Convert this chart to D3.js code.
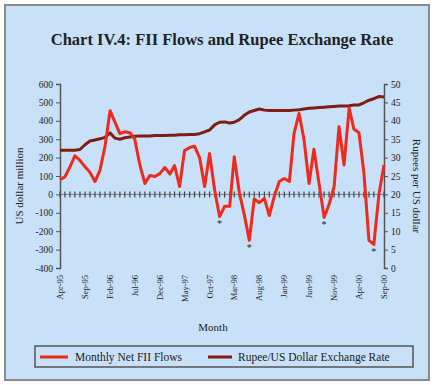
<!DOCTYPE html>
<html>
<head>
  <meta charset="utf-8">
  <script src="https://d3js.org/d3.v7.min.js"></script>
  <style>
    body { margin: 0; background: #fff; }
    text { font-family: "Liberation Serif", "DejaVu Serif", serif; fill: #222; }
  </style>
</head>
<body>
  <div id="chart"></div>
  <script>
    // months Apr-95 .. Sep-00
    const months = d3.range(66).map(i => new Date(1995, 3 + i, 1));
    const tickMonths = d3.range(0, 66, 5).map(i => months[i]);

    // Monthly net FII flows, US$ million (left axis)
    const fiiFlows = [80, 95, 150, 210, 185, 150, 120, 70, 130, 260,
      455, 394, 330, 340, 335, 300, 160, 59, 103, 97,
      113, 146, 110, 157, 43, 238, 255, 262, 200, 43,
      222, 25, -120, -65, -65, 205, 10, -110, -250, -25,
      -45, -22, -115, -10, 70, 86, 70, 330, 440, 300,
      59, 245, 60, -125, -55, 40, 368, 160, 470, 355,
      335, 120, -250, -272, 0, 160];

    // Rupee / US dollar exchange rate (right axis)
    const exchangeRate = [32.0, 32.0, 32.0, 32.0, 32.2, 33.5, 34.5, 34.8, 35.1, 35.5,
      36.7, 35.3, 35.0, 35.4, 35.6, 35.8, 35.9, 35.9, 35.9, 36.0,
      36.0, 36.0, 36.1, 36.1, 36.2, 36.2, 36.3, 36.3, 36.5, 37.0,
      37.5, 38.9, 39.6, 39.7, 39.4, 39.6, 40.3, 41.5, 42.4, 42.8,
      43.2, 42.9, 42.8, 42.8, 42.8, 42.8, 42.8, 42.9, 43.0, 43.2,
      43.4, 43.5, 43.6, 43.7, 43.8, 43.9, 44.0, 44.0, 44.1, 44.3,
      44.3, 44.9, 45.6, 46.0, 46.6, 46.5];

    // months marked with an asterisk below the trough
    const starMonths = [32, 38, 53, 63];

    const leftTicks = d3.range(-400, 601, 100);
    const rightTicks = d3.range(0, 51, 5);

    const W = 435, H = 385;
    const svg = d3.select("#chart").append("svg")
      .attr("width", W).attr("height", H);

    // frame
    svg.append("rect")
      .attr("x", 5).attr("y", 5).attr("width", 424).attr("height", 375)
      .attr("fill", "#c8e0f8").attr("stroke", "#8a8a8a").attr("stroke-width", 2);

    svg.append("text")
      .attr("x", 222).attr("y", 45)
      .attr("text-anchor", "middle")
      .attr("font-size", 16.5).attr("font-weight", "bold")
      .text("Chart IV.4: FII Flows and Rupee Exchange Rate");

    const x = d3.scaleTime().domain([months[0], months[65]]).range([60, 384]);
    const yL = d3.scaleLinear().domain([-400, 600]).range([268, 84]);
    const yR = d3.scaleLinear().domain([0, 50]).range([268, 84]);

    const hyphen = d => String(d).replace("\u2212", "-");

    // left axis
    svg.append("g")
      .attr("transform", "translate(60,0)")
      .call(d3.axisLeft(yL).tickValues(leftTicks).tickSize(4).tickPadding(3).tickFormat(hyphen))
      .call(g => g.selectAll("text").attr("font-size", 9.5))
      .call(g => g.select(".domain").attr("stroke", "#555").attr("stroke-width", 1.5))
      .call(g => g.selectAll(".tick line").attr("stroke", "#555"));

    // right axis
    svg.append("g")
      .attr("transform", "translate(384,0)")
      .call(d3.axisRight(yR).tickValues(rightTicks).tickSize(4).tickPadding(3).tickFormat(hyphen))
      .call(g => g.selectAll("text").attr("font-size", 9.5))
      .call(g => g.select(".domain").attr("stroke", "#555").attr("stroke-width", 1.5))
      .call(g => g.selectAll(".tick line").attr("stroke", "#555"));

    // zero line with month ticks
    const zeroY = yL(0);
    svg.append("line")
      .attr("x1", 60).attr("x2", 384).attr("y1", zeroY).attr("y2", zeroY)
      .attr("stroke", "#666").attr("stroke-width", 0.8);
    svg.append("g").selectAll("line").data(months).join("line")
      .attr("x1", d => x(d)).attr("x2", d => x(d))
      .attr("y1", zeroY - 3).attr("y2", zeroY + 3)
      .attr("stroke", "#444").attr("stroke-width", 1.2);

    // month labels
    const fmt = d3.timeFormat("%b-%y");
    svg.append("g").selectAll("text").data(tickMonths).join("text")
      .attr("transform", d => `translate(${x(d) + 3},275) rotate(-90)`)
      .attr("text-anchor", "end")
      .attr("font-size", 8.5)
      .text(d => fmt(d));

    // axis titles
    svg.append("text")
      .attr("transform", "translate(23,186) rotate(-90)")
      .attr("text-anchor", "middle").attr("font-size", 11)
      .text("US dollar million");
    svg.append("text")
      .attr("transform", "translate(413,186) rotate(90)")
      .attr("text-anchor", "middle").attr("font-size", 11)
      .text("Rupees per US dollar");
    svg.append("text")
      .attr("x", 213).attr("y", 331)
      .attr("text-anchor", "middle").attr("font-size", 11)
      .text("Month");

    // series
    const lineL = d3.line().x((d, i) => x(months[i])).y(d => yL(d));
    const lineR = d3.line().x((d, i) => x(months[i])).y(d => yR(d));

    svg.append("path").datum(exchangeRate)
      .attr("d", lineR).attr("fill", "none")
      .attr("stroke", "#7e1d12").attr("stroke-width", 3).attr("stroke-linejoin", "round");
    svg.append("path").datum(fiiFlows)
      .attr("d", lineL).attr("fill", "none")
      .attr("stroke", "#ee2a1c").attr("stroke-width", 3).attr("stroke-linejoin", "round");

    svg.append("g").selectAll("text").data(starMonths).join("text")
      .attr("x", i => x(months[i]))
      .attr("y", i => yL(fiiFlows[i]) + 11)
      .attr("text-anchor", "middle").attr("font-size", 10)
      .text("*");

    // legend
    svg.append("rect")
      .attr("x", 35).attr("y", 346).attr("width", 378).attr("height", 21)
      .attr("fill", "none").attr("stroke", "#555").attr("stroke-width", 1.5);
    svg.append("line")
      .attr("x1", 40).attr("x2", 68).attr("y1", 357).attr("y2", 357)
      .attr("stroke", "#ee2a1c").attr("stroke-width", 3);
    svg.append("text")
      .attr("x", 75).attr("y", 361).attr("font-size", 11.5)
      .text("Monthly Net FII Flows");
    svg.append("line")
      .attr("x1", 208).attr("x2", 232).attr("y1", 357).attr("y2", 357)
      .attr("stroke", "#7e1d12").attr("stroke-width", 3);
    svg.append("text")
      .attr("x", 238).attr("y", 361).attr("font-size", 11.5)
      .text("Rupee/US Dollar Exchange Rate");
  </script>
</body>
</html>
